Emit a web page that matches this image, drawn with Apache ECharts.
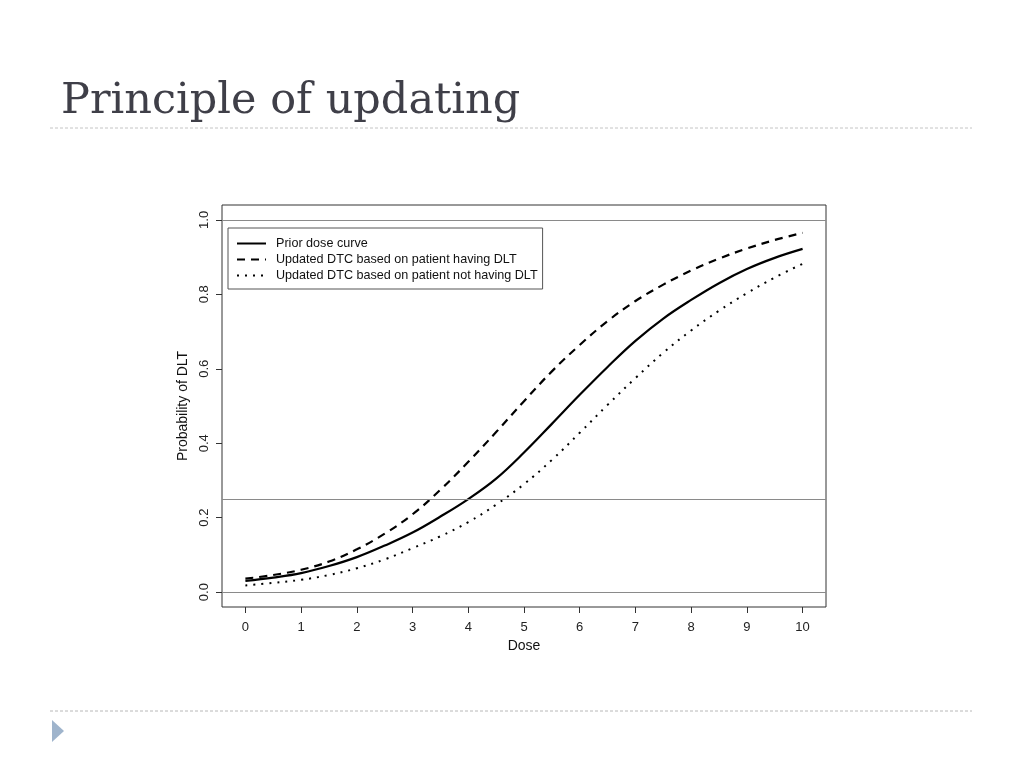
<!DOCTYPE html>
<html>
<head>
<meta charset="utf-8">
<title>Principle of updating</title>
<script src="https://cdn.jsdelivr.net/npm/echarts@6/dist/echarts.min.js"></script>
<style>
  html, body { margin: 0; padding: 0; background: #fff; }
  #chart { width: 1024px; height: 768px; }
</style>
</head>
<body>
<div id="chart"></div>
<script>
// dose grid and curves
var doses = [0, 0.5, 1, 1.5, 2, 2.5, 3, 3.5, 4, 4.5, 5, 5.5, 6, 6.5, 7, 7.5, 8, 8.5, 9, 9.5, 10];
var priorCurve = [0.030, 0.039, 0.051, 0.070, 0.094, 0.125, 0.160, 0.203, 0.250, 0.305, 0.375,
                  0.452, 0.530, 0.605, 0.675, 0.735, 0.785, 0.830, 0.868, 0.898, 0.922];
var dltCurve   = [0.036, 0.046, 0.060, 0.082, 0.115, 0.157, 0.209, 0.275, 0.350, 0.430, 0.513,
                  0.593, 0.664, 0.728, 0.782, 0.826, 0.864, 0.896, 0.923, 0.946, 0.965];
var noDltCurve = [0.018, 0.025, 0.033, 0.046, 0.064, 0.088, 0.118, 0.150, 0.188, 0.235, 0.290,
                  0.355, 0.428, 0.503, 0.575, 0.643, 0.703, 0.756, 0.803, 0.845, 0.882];
var refLines = [0, 0.25, 1];
var xTicks = [0, 1, 2, 3, 4, 5, 6, 7, 8, 9, 10];
var yTicks = [0, 0.2, 0.4, 0.6, 0.8, 1.0];
var names = ['Prior dose curve', 'Updated DTC based on patient having DLT', 'Updated DTC based on patient not having DLT'];

var pairs = function (ys) { return doses.map(function (d, i) { return [d, ys[i]]; }); };
var sans = 'Liberation Sans, Arial, sans-serif';

var chart = echarts.init(document.getElementById('chart'));
var option = {
  animation: false,
  title: {
    text: 'Principle of updating',
    left: 56, top: 75,
    textStyle: { fontFamily: 'DejaVu Serif, serif', fontSize: 43, fontWeight: 'normal', color: '#3f3f48' }
  },
  graphic: [
    { type: 'line', shape: { x1: 50, y1: 128, x2: 972, y2: 128 },
      style: { stroke: '#c4c4c4', lineWidth: 1, lineDash: [3, 2] } },
    { type: 'line', shape: { x1: 50, y1: 711, x2: 972, y2: 711 },
      style: { stroke: '#b8b8b8', lineWidth: 1, lineDash: [3, 2] } },
    { type: 'polygon', shape: { points: [[52, 720], [64, 731], [52, 742]] },
      style: { fill: '#9fb4cc' } }
  ],
  grid: {
    left: 222, top: 205, width: 604, height: 402,
    show: true, borderColor: '#333', borderWidth: 1, backgroundColor: 'transparent'
  },
  legend: {
    orient: 'vertical', left: 228, top: 228,
    padding: [9, 5, 7, 8], itemGap: 3, itemWidth: 29, itemHeight: 13,
    borderColor: '#555', borderWidth: 1,
    data: names,
    itemStyle: { opacity: 0 },
    textStyle: { fontFamily: sans, fontSize: 12.6, color: '#111', padding: [0, 0, 0, 5] }
  },
  xAxis: {
    type: 'value', min: -0.42, max: 10.42,
    name: 'Dose', nameLocation: 'middle', nameGap: 31,
    nameTextStyle: { fontFamily: sans, fontSize: 14, color: '#111' },
    axisLine: { show: false, onZero: false },
    splitLine: { show: false },
    axisTick: { show: true, length: 6, customValues: xTicks, lineStyle: { color: '#333' } },
    axisLabel: { customValues: xTicks, margin: 14, fontFamily: sans, fontSize: 13, color: '#222' }
  },
  yAxis: {
    type: 'value', min: -0.04, max: 1.04,
    name: 'Probability of DLT', nameLocation: 'middle', nameGap: 32,
    nameTextStyle: { fontFamily: sans, fontSize: 14, color: '#111' },
    axisLine: { show: false, onZero: false },
    splitLine: { show: false },
    axisTick: { show: true, length: 6, customValues: yTicks, lineStyle: { color: '#333' } },
    axisLabel: {
      customValues: yTicks, rotate: 90, margin: 11, fontFamily: sans, fontSize: 13, color: '#222',
      formatter: function (v) { return v.toFixed(1); }
    }
  },
  series: [
    {
      name: names[0], type: 'line', data: pairs(priorCurve),
      symbol: 'none', smooth: 0.4,
      lineStyle: { color: '#000', width: 2.2, type: 'solid' },
      itemStyle: { color: '#000' },
      markLine: {
        silent: true, symbol: 'none', label: { show: false },
        lineStyle: { color: '#8a8a8a', width: 1, type: 'solid' },
        data: refLines.map(function (v) { return { yAxis: v }; })
      }
    },
    {
      name: names[1], type: 'line', data: pairs(dltCurve),
      symbol: 'none', smooth: 0.4,
      lineStyle: { color: '#000', width: 2.2, type: [8, 6] },
      itemStyle: { color: '#000' }
    },
    {
      name: names[2], type: 'line', data: pairs(noDltCurve),
      symbol: 'none', smooth: 0.4,
      lineStyle: { color: '#000', width: 2, type: [2, 6] },
      itemStyle: { color: '#000' }
    }
  ]
};
chart.setOption(option);
</script>
</body>
</html>
